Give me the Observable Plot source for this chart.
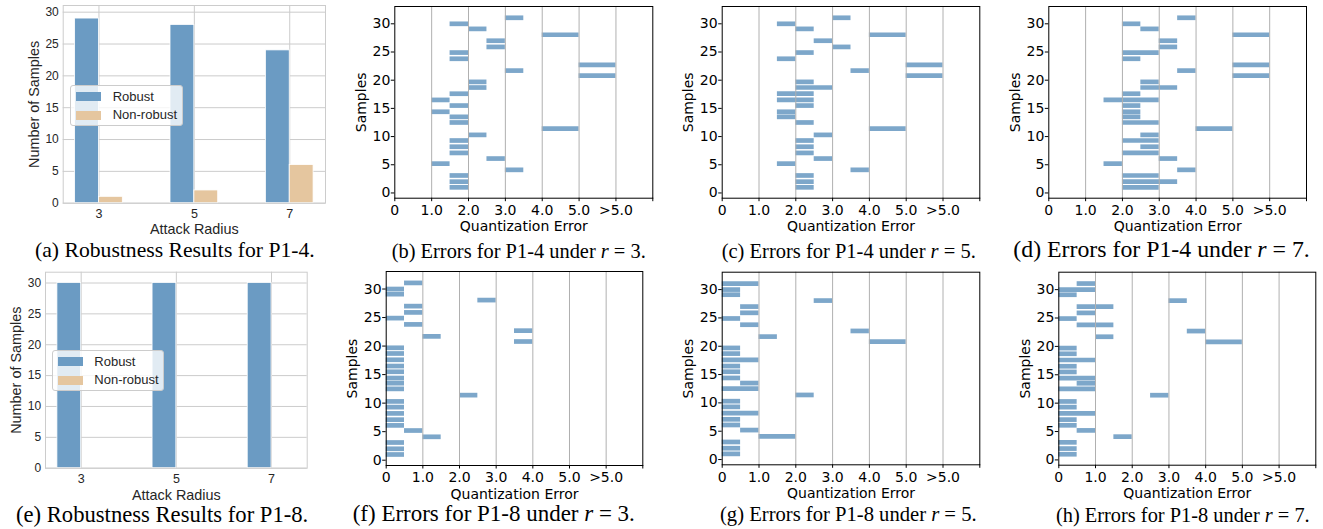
<!DOCTYPE html>
<html><head><meta charset="utf-8">
<script src="https://cdn.jsdelivr.net/npm/d3@7"></script>
<script src="https://cdn.jsdelivr.net/npm/@observablehq/plot@0.6"></script>
<style>
html,body{margin:0;padding:0;background:#fff}
body{width:1323px;height:529px;position:relative;overflow:hidden}
.panel{position:absolute}
.panel svg{overflow:visible}
.cap{position:absolute;font-family:"Liberation Serif","Times New Roman",serif;font-size:20px;line-height:1;white-space:nowrap;color:#000}
.legend{position:absolute;background:rgba(255,255,255,0.8);border:1px solid #cccccc;border-radius:3px;box-sizing:border-box;font-family:"Liberation Sans",Arial,sans-serif;font-size:13px;color:#262626}
.legend .sw{position:absolute;width:25px;height:9px}
.legend .lt{position:absolute;line-height:13px}
</style></head><body>
<script>
// ---------- data ----------
const radii = [3, 5, 7];
const robustP14 = [29, 28, 24];
const nonRobustP14 = [1, 2, 6];
const robustP18 = [30, 30, 30];
const nonRobustP18 = [0, 0, 0];
const legendLabels = ["Robust", "Non-robust"];

// vertical position of each of the 30 samples in the error plots
const samplePos = [1.0, 2.0, 3.1, 4.1, 5.2, 6.1, 7.1, 8.2, 9.3, 10.3, 11.4, 12.5, 13.5, 14.4, 15.5,
  16.5, 17.6, 18.7, 19.7, 20.8, 21.7, 22.7, 23.8, 24.9, 25.9, 27.0, 28.06, 29.1, 30.0, 31.07];

const xTickValues = [0, 1, 2, 3, 4, 5, 6, 7];
const xTickLabels = ["0", "1.0", "2.0", "3.0", "4.0", "5.0", ">5.0", ""];
const yTickValues = [0, 5, 10, 15, 20, 25, 30];

// quantization error ranges per sample (sample 1 .. 30)
const loP14r3 = [1.5,1.5,1.5,3.0,1.0,2.5,1.5,1.5,1.5,2.0,4.0,1.5,1.5,1.0,1.5,1.0,1.5,2.0,2.0,5.0,3.0,5.0,1.5,1.5,2.5,2.5,4.0,2.0,1.5,3.0];
const hiP14r3 = [2.0,2.0,2.0,3.5,1.5,3.0,2.0,2.0,2.0,2.5,5.0,2.0,2.0,1.5,2.0,1.5,2.0,2.5,2.5,6.0,3.5,6.0,2.0,2.0,3.0,3.0,5.0,2.5,2.0,3.5];

const loP14r5 = [2.0,2.0,2.0,3.5,1.5,2.5,2.0,2.0,2.0,2.5,4.0,2.0,1.5,1.5,2.0,1.5,1.5,2.0,2.0,5.0,3.5,5.0,1.5,2.0,3.0,2.5,4.0,2.0,1.5,3.0];
const hiP14r5 = [2.5,2.5,2.5,4.0,2.0,3.0,2.5,2.5,2.5,3.0,5.0,2.5,2.0,2.0,2.5,2.5,2.5,3.0,2.5,6.0,4.0,6.0,2.0,2.5,3.5,3.0,5.0,2.5,2.0,3.5];

const loP14r7 = [2.0,2.0,2.0,3.5,1.5,3.0,2.0,2.5,2.0,2.5,4.0,2.0,2.0,2.0,2.0,1.5,2.0,2.5,2.5,5.0,3.5,5.0,2.0,2.0,3.0,3.0,5.0,2.5,2.0,3.5];
const hiP14r7 = [3.0,3.5,3.0,4.0,2.0,3.5,3.0,3.0,3.0,3.0,5.0,3.0,2.5,2.5,2.5,3.0,2.5,3.5,3.0,6.0,4.0,6.0,2.5,3.0,3.5,3.5,6.0,3.0,2.5,4.0];

const loP18r3 = [0,0,0,1.0,0.5,0,0,0,0,0,2.0,0,0,0,0,0,0,0,0,3.5,1.0,3.5,0.5,0,0.5,0.5,2.5,0,0,0.5];
const hiP18r3 = [0.5,0.5,0.5,1.5,1.0,0.5,0.5,0.5,0.5,0.5,2.5,0.5,0.5,0.5,0.5,0.5,0.5,0.5,0.5,4.0,1.5,4.0,1.0,0.5,1.0,1.0,3.0,0.5,0.5,1.0];

const loP18r5 = [0,0,0,1.0,0.5,0,0,0,0,0,2.0,0,0.5,0,0,0,0,0,0,4.0,1.0,3.5,0.5,0,0.5,0.5,2.5,0,0,0];
const hiP18r5 = [0.5,0.5,0.5,2.0,1.0,0.5,0.5,1.0,0.5,0.5,2.5,1.0,1.0,0.5,0.5,0.5,1.0,0.5,0.5,5.0,1.5,4.0,1.0,0.5,1.0,1.0,3.0,0.5,0.5,1.0];

const loP18r7 = [0,0,0,1.5,0.5,0,0,0,0,0,2.5,0,0.5,0,0,0,0,0,0,4.0,1.0,3.5,0.5,0,0.5,0.5,3.0,0,0,0.5];
const hiP18r7 = [0.5,0.5,0.5,2.0,1.0,0.5,0.5,1.0,0.5,0.5,3.0,1.0,1.0,1.0,0.5,0.5,1.0,0.5,0.5,5.0,1.5,4.0,1.5,0.5,1.0,1.5,3.5,0.5,1.0,1.0];

const captions = [
  ["(a) Robustness Results for P1-4.", null],
  ["(b) Errors for P1-4 under ", "3"],
  ["(c) Errors for P1-4 under ", "5"],
  ["(d) Errors for P1-4 under ", "7"],
  ["(e) Robustness Results for P1-8.", null],
  ["(f) Errors for P1-8 under ", "3"],
  ["(g) Errors for P1-8 under ", "5"],
  ["(h) Errors for P1-8 under ", "7"]
];

const robustColor = "#6b9bc3";
const nonRobustColor = "#e5c69f";

// ---------- helpers ----------
function place(node, left, top) {
  const d = document.createElement("div");
  d.className = "panel";
  d.style.left = left + "px";
  d.style.top = top + "px";
  d.appendChild(node);
  document.body.appendChild(d);
}

function errorPanel(lo, hi, g) {
  const data = samplePos.map((y, i) => ({y, lo: lo[i], hi: hi[i]}));
  return Plot.plot({
    width: g.w, height: g.h,
    marginLeft: g.ml, marginRight: g.mr, marginTop: g.mt, marginBottom: g.mb,
    style: {fontFamily: "DejaVu Sans", fontSize: "14px", color: "#000", background: "transparent"},
    x: {domain: [0, 7]},
    y: {domain: [-0.93, 33.07]},
    marks: [
      Plot.ruleY(data, {y: "y", x1: "lo", x2: "hi", stroke: "#4682b4", strokeOpacity: 0.7, strokeWidth: 4.7}),
      Plot.gridX({ticks: [1, 2, 3, 4, 5, 6], stroke: "#b0b0b0", strokeOpacity: 1, strokeWidth: 1}),
      Plot.frame({stroke: "#000", strokeWidth: 1}),
      Plot.axisX({ticks: xTickValues, tickFormat: d => xTickLabels[xTickValues.indexOf(d)], tickSize: 3.5, tickPadding: 3.5,
        label: "Quantization Error", labelAnchor: "center", labelOffset: 33, labelArrow: "none", fontSize: 14}),
      Plot.axisY({ticks: yTickValues, tickSize: 3.5, tickPadding: 1, label: "Samples", labelAnchor: "center",
        labelOffset: 39, labelArrow: "none", fontSize: 14})
    ]
  });
}

function robustPanel(rob, non, g) {
  const data = radii.map((r, i) => ({i, r, rob: rob[i], non: non[i]}));
  return Plot.plot({
    width: g.w, height: g.h,
    marginLeft: g.ml, marginRight: g.mr, marginTop: g.mt, marginBottom: g.mb,
    style: {fontFamily: "Liberation Sans", fontSize: "12px", color: "#262626", background: "transparent"},
    x: {domain: [-0.375, 2.375]},
    y: {domain: g.yd},
    marks: [
      Plot.gridY({ticks: yTickValues, stroke: "#cccccc", strokeOpacity: 1, strokeWidth: 1}),
      Plot.gridX({ticks: [0, 1, 2], stroke: "#cccccc", strokeOpacity: 1, strokeWidth: 1}),
      Plot.rect(data.filter(d => d.rob > 0), {x1: d => d.i - 0.25, x2: d => d.i, y1: 0, y2: "rob", fill: robustColor, stroke: "white", strokeWidth: 0.8}),
      Plot.rect(data.filter(d => d.non > 0), {x1: d => d.i, x2: d => d.i + 0.25, y1: 0, y2: "non", fill: nonRobustColor, stroke: "white", strokeWidth: 0.8}),
      Plot.frame({stroke: "#cccccc", strokeWidth: 1}),
      Plot.axisX({ticks: [0, 1, 2], tickFormat: d => String(radii[d]), tickSize: 0, tickPadding: 5.5, label: null, fontSize: 12.5}),
      Plot.axisY({ticks: yTickValues, tickSize: 0, tickPadding: 4.4, label: null, fontSize: 12}),
      Plot.axisX({ticks: [], tickSize: 0, label: "Attack Radius", labelAnchor: "center", labelOffset: g.xlo, labelArrow: "none", fontSize: 14.4}),
      Plot.axisY({ticks: [], tickSize: 0, label: "Number of Samples", labelAnchor: "center", labelOffset: g.ylo, labelArrow: "none", fontSize: 14.4})
    ]
  });
}

function legend(left, top, w, h, swLeft, txtLeft, rowCenters) {
  const box = document.createElement("div");
  box.className = "legend";
  Object.assign(box.style, {left: left + "px", top: top + "px", width: w + "px", height: h + "px"});
  const cols = [robustColor, nonRobustColor];
  legendLabels.forEach((lab, i) => {
    const sw = document.createElement("div");
    sw.className = "sw";
    Object.assign(sw.style, {left: swLeft + "px", top: (rowCenters[i] - 4.5) + "px", background: cols[i]});
    const t = document.createElement("div");
    t.className = "lt";
    Object.assign(t.style, {left: txtLeft + "px", top: (rowCenters[i] - 7) + "px"});
    t.textContent = lab;
    box.appendChild(sw); box.appendChild(t);
  });
  document.body.appendChild(box);
}

// caption: font size chosen so the line spans the given width (sub-figures are scaled differently)
function caption(idx, left, width, baseline) {
  const [txt, val] = captions[idx];
  const d = document.createElement("div");
  d.className = "cap";
  d.appendChild(document.createTextNode(txt));
  if (val !== null) {
    const it = document.createElement("i");
    it.textContent = "r";
    d.appendChild(it);
    d.appendChild(document.createTextNode(" = " + val + "."));
  }
  d.style.left = left + "px";
  d.style.top = "0px";
  document.body.appendChild(d);
  const natural = d.getBoundingClientRect().width;
  const fs = 20 * width / natural;
  d.style.fontSize = fs + "px";
  d.style.top = (baseline - 0.8375 * fs) + "px";
}

// ---------- panels ----------
place(robustPanel(robustP14, nonRobustP14, {w: 335, h: 240, ml: 62.7, mr: 10, mt: 5, mb: 37.3, yd: [0, 31.05], xlo: 30.6, ylo: 34.6}), 0, 0);
place(errorPanel(loP14r3, hiP14r3, {w: 320, h: 240, ml: 54.3, mr: 7.7, mt: 6, mb: 42.3}), 340, 0);
place(errorPanel(loP14r5, hiP14r5, {w: 320, h: 240, ml: 51.7, mr: 10.7, mt: 6, mb: 42.3}), 670, 0);
place(errorPanel(loP14r7, hiP14r7, {w: 323, h: 240, ml: 48.3, mr: 17, mt: 6, mb: 42.3}), 1000, 0);

place(robustPanel(robustP18, nonRobustP18, {w: 335, h: 240, ml: 45, mr: 28.3, mt: 6.7, mb: 37.3, yd: [0, 31.75], xlo: 31.6, ylo: 35.2}), 0, 265);
place(errorPanel(loP18r3, hiP18r3, {w: 320, h: 240, ml: 45.7, mr: 17.7, mt: 6, mb: 40}), 340, 265);
place(errorPanel(loP18r5, hiP18r5, {w: 320, h: 240, ml: 51.7, mr: 10.7, mt: 6.7, mb: 40.7}), 670, 265);
place(errorPanel(loP18r7, hiP18r7, {w: 323, h: 240, ml: 58.3, mr: 7.7, mt: 6.7, mb: 40.3}), 1000, 265);

legend(70.3, 85.3, 113, 40.7, 5, 41.4, [10.4, 29]);
legend(51.7, 350, 112.3, 41, 5, 41.6, [10.7, 29.3]);

caption(0, 35, 280, 258.3);
caption(1, 391.7, 254.3, 258.3);
caption(2, 721.7, 254.3, 258.3);
caption(3, 1013.3, 296.7, 258.3);
caption(4, 16, 292.3, 523);
caption(5, 352.7, 282.3, 521.7);
caption(6, 720, 256.7, 521.7);
caption(7, 1056, 254, 521.7);
</script>
</body></html>
